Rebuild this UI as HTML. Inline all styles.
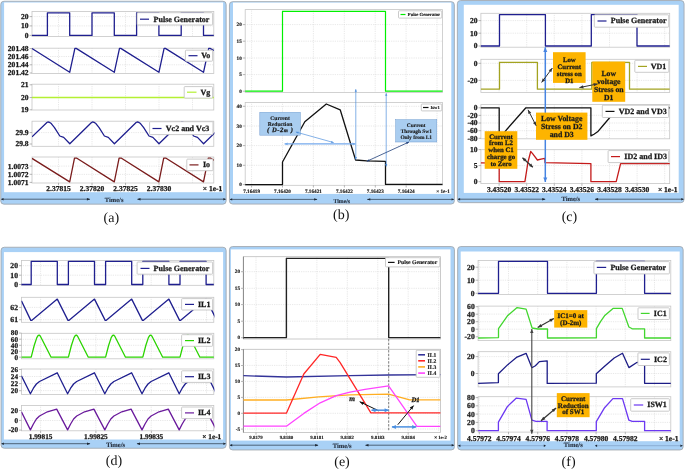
<!DOCTYPE html>
<html lang="en">
<head>
<meta charset="utf-8">
<title>Simulation waveforms</title>
<style>
html,body{margin:0;padding:0;background:#fff;}
body{width:685px;height:470px;overflow:hidden;}
svg{display:block;font-family:'Liberation Serif', 'DejaVu Serif', serif;}
svg text{stroke:#1a1a1a;stroke-width:0.26px;stroke-linejoin:round;text-rendering:geometricPrecision;}
svg text.cap{stroke:none;}
svg text.tm{stroke:#2a3443;stroke-width:0.15px;}
svg text.sm{stroke-width:0.15px;}
</style>
</head>
<body>
<svg width="685" height="470" viewBox="0 0 685 470">
<rect width="685" height="470" fill="#fff"/>
<rect x="0.75" y="1.25" width="225.4" height="202.9" rx="3.2" ry="3.2" fill="#a9d1f6" stroke="#a3a9b0" stroke-width="0.9"/>
<rect x="4.1" y="2.5" width="219" height="189.7" fill="#fff"/>
<path d="M1.3 199.2H89.8 M137.6 199.2H225.6" stroke="#1c2633" stroke-width="0.65" fill="none"/>
<path d="M90.3 199.2l-3.4 -1.2 v2.4 z M137.1 199.2l3.4 -1.2 v2.4 z" fill="#1c2633"/>
<path d="M1.1 199.2l2.4 -1.2 v2.4 z M225.8 199.2l-2.4 -1.2 v2.4 z" fill="#1c2633"/>
<text class="tm" x="114.1" y="201.65" font-size="6.5" font-weight="bold" text-anchor="middle" fill="#2a3443">Time/s</text>
<rect x="32" y="11.4" width="181.8" height="25.1" fill="#fff" stroke="#c6c6c6" stroke-width="0.8"/>
<path d="M58.5 11.4V36.5M92 11.4V36.5M125.5 11.4V36.5M159 11.4V36.5M192.5 11.4V36.5M32 16.6H213.8M32 25.9H213.8" stroke="#d0d0d0" stroke-width="0.6" stroke-dasharray="0.8 1" fill="none"/>
<text x="28.6" y="19.09" font-size="7.55" font-weight="bold" text-anchor="end" fill="#1a1a1a">20</text>
<text x="28.6" y="28.39" font-size="7.55" font-weight="bold" text-anchor="end" fill="#1a1a1a">10</text>
<text x="28.6" y="37.89" font-size="7.55" font-weight="bold" text-anchor="end" fill="#1a1a1a">0</text>
<path d="M29.6 16.6H32M29.6 25.9H32M29.6 35.4H32" stroke="#888" stroke-width="0.6" fill="none"/>
<polyline points="32,35.4 47.4,35.4 47.4,12.8 69.7,12.8 69.7,35.4 92,35.4 92,12.8 114.3,12.8 114.3,35.4 136.6,35.4 136.6,12.8 158.9,12.8 158.9,35.4 181.2,35.4 181.2,12.8 203.5,12.8 203.5,35.4 213.8,35.4" fill="none" stroke="#1f1f8f" stroke-width="1.3" stroke-linejoin="round"/>
<rect x="137.1" y="12.7" width="75.5" height="12.3" rx="0.8" fill="#fff" stroke="#c2c2c2" stroke-width="0.85"/>
<path d="M140 19.2H149" stroke="#1f1f8f" stroke-width="1.2"/>
<text x="153.6" y="21.68" font-size="8" font-weight="bold" fill="#1a1a1a">Pulse Generator</text>
<rect x="32" y="48.2" width="181.8" height="25.2" fill="#fff" stroke="#c6c6c6" stroke-width="0.8"/>
<path d="M58.5 48.2V73.4M92 48.2V73.4M125.5 48.2V73.4M159 48.2V73.4M192.5 48.2V73.4M32 56.5H213.8M32 64.8H213.8" stroke="#d0d0d0" stroke-width="0.6" stroke-dasharray="0.8 1" fill="none"/>
<text x="28.6" y="50.99" font-size="7.55" font-weight="bold" text-anchor="end" fill="#1a1a1a">201.48</text>
<text x="28.6" y="59.09" font-size="7.55" font-weight="bold" text-anchor="end" fill="#1a1a1a">201.46</text>
<text x="28.6" y="67.29" font-size="7.55" font-weight="bold" text-anchor="end" fill="#1a1a1a">201.44</text>
<text x="28.6" y="75.49" font-size="7.55" font-weight="bold" text-anchor="end" fill="#1a1a1a">201.42</text>
<path d="M29.6 48.5H32M29.6 56.6H32M29.6 64.8H32M29.6 73H32" stroke="#888" stroke-width="0.6" fill="none"/>
<clipPath id="ca2"><rect x="32" y="46" width="182.4" height="30"/></clipPath>
<polyline points="32,48.6 69.7,72.3 74.9,48.3 76.2,48.4 114.3,72.3 119.5,48.3 120.8,48.4 158.9,72.3 164.1,48.3 165.4,48.4 203.5,72.3 208.7,48.3 210,48.4 213.8,50.5" fill="none" stroke="#1f1f8f" stroke-width="1.3" stroke-linejoin="round" clip-path="url(#ca2)"/>
<rect x="185.4" y="50.2" width="27.2" height="11" rx="0.8" fill="#fff" stroke="#c2c2c2" stroke-width="0.85"/>
<path d="M188.5 55.7H197.5" stroke="#1f1f8f" stroke-width="1.2"/>
<text x="201.3" y="58.18" font-size="8" font-weight="bold" fill="#1a1a1a">Vo</text>
<rect x="32" y="84.2" width="181.8" height="25.8" fill="#fff" stroke="#c6c6c6" stroke-width="0.8"/>
<path d="M58.5 84.2V110M92 84.2V110M125.5 84.2V110M159 84.2V110M192.5 84.2V110M32 97.5H213.8" stroke="#d0d0d0" stroke-width="0.6" stroke-dasharray="0.8 1" fill="none"/>
<text x="28.6" y="87.29" font-size="7.55" font-weight="bold" text-anchor="end" fill="#1a1a1a">21</text>
<text x="28.6" y="99.99" font-size="7.55" font-weight="bold" text-anchor="end" fill="#1a1a1a">20</text>
<text x="28.6" y="112.29" font-size="7.55" font-weight="bold" text-anchor="end" fill="#1a1a1a">19</text>
<path d="M29.6 84.8H32M29.6 97.5H32M29.6 109.8H32" stroke="#888" stroke-width="0.6" fill="none"/>
<polyline points="32,97.5 213.8,97.5" fill="none" stroke="#b4f033" stroke-width="1.3" stroke-linejoin="round"/>
<rect x="184.2" y="86.6" width="28.4" height="11.5" rx="0.8" fill="#fff" stroke="#c2c2c2" stroke-width="0.85"/>
<path d="M187 92.2H196.5" stroke="#b4f033" stroke-width="1.2"/>
<text x="200.5" y="94.68" font-size="8" font-weight="bold" fill="#1a1a1a">Vg</text>
<rect x="32" y="121.2" width="181.8" height="25.1" fill="#fff" stroke="#c6c6c6" stroke-width="0.8"/>
<path d="M58.5 121.2V146.3M92 121.2V146.3M125.5 121.2V146.3M159 121.2V146.3M192.5 121.2V146.3M32 132.6H213.8" stroke="#d0d0d0" stroke-width="0.6" stroke-dasharray="0.8 1" fill="none"/>
<text x="28.6" y="135.09" font-size="7.55" font-weight="bold" text-anchor="end" fill="#1a1a1a">29.9</text>
<text x="28.6" y="146.49" font-size="7.55" font-weight="bold" text-anchor="end" fill="#1a1a1a">29.8</text>
<path d="M29.6 132.6H32M29.6 144H32" stroke="#888" stroke-width="0.6" fill="none"/>
<clipPath id="ca4"><rect x="32" y="119" width="182.4" height="29"/></clipPath>
<polyline points="32,136.8 46.9,122.5 47.9,122 49.7,122.4 51.3,123.6 54.5,127.6 59.8,136 63.7,137.4 69.8,143.8 91.5,122.5 92.5,122 94.3,122.4 95.9,123.6 99.1,127.6 104.4,136 108.3,137.4 114.4,143.8 136.1,122.5 137.1,122 138.9,122.4 140.5,123.6 143.7,127.6 149,136 152.9,137.4 159,143.8 180.7,122.5 181.7,122 183.5,122.4 185.1,123.6 188.3,127.6 193.6,136 197.5,137.4 203.6,143.8 225.3,122.5 226.3,122 228.1,122.4 229.7,123.6 232.9,127.6 238.2,136 242.1,137.4 248.2,143.8" fill="none" stroke="#1f1f8f" stroke-width="1.3" stroke-linejoin="round" clip-path="url(#ca4)"/>
<rect x="149.6" y="121.7" width="63.4" height="12.9" rx="0.8" fill="#fff" stroke="#c2c2c2" stroke-width="0.85"/>
<path d="M152.5 128.5H161.5" stroke="#1f1f8f" stroke-width="1.2"/>
<text x="165.8" y="130.98" font-size="8" font-weight="bold" fill="#1a1a1a">Vc2 and Vc3</text>
<rect x="32" y="157" width="181.8" height="26" fill="#fff" stroke="#c6c6c6" stroke-width="0.8"/>
<path d="M58.5 157V183M92 157V183M125.5 157V183M159 157V183M192.5 157V183M32 166.1H213.8M32 174.4H213.8" stroke="#d0d0d0" stroke-width="0.6" stroke-dasharray="0.8 1" fill="none"/>
<text x="28.6" y="168.59" font-size="7.55" font-weight="bold" text-anchor="end" fill="#1a1a1a">1.0073</text>
<text x="28.6" y="176.79" font-size="7.55" font-weight="bold" text-anchor="end" fill="#1a1a1a">1.0072</text>
<text x="28.6" y="184.89" font-size="7.55" font-weight="bold" text-anchor="end" fill="#1a1a1a">1.0071</text>
<path d="M29.6 166.1H32M29.6 174.3H32M29.6 182.4H32" stroke="#888" stroke-width="0.6" fill="none"/>
<clipPath id="ca5"><rect x="32" y="155" width="182.4" height="30"/></clipPath>
<polyline points="32,158.4 69.7,181.9 74.5,158.2 76.9,158.2 114.3,181.9 119.1,158.2 121.5,158.2 158.9,181.9 163.7,158.2 166.1,158.2 203.5,181.9 208.3,158.2 210.7,158.2 213.8,160.4" fill="none" stroke="#7a1c1c" stroke-width="1.3" stroke-linejoin="round" clip-path="url(#ca5)"/>
<rect x="186.8" y="159.1" width="26.2" height="11.6" rx="0.8" fill="#fff" stroke="#c2c2c2" stroke-width="0.85"/>
<path d="M189.5 164.9H198.5" stroke="#7a1c1c" stroke-width="1.2"/>
<text x="203" y="167.38" font-size="8" font-weight="bold" fill="#1a1a1a">Io</text>
<text x="58.5" y="191.38" font-size="7.5" font-weight="bold" text-anchor="middle" fill="#1a1a1a">2.37815</text>
<text x="92" y="191.38" font-size="7.5" font-weight="bold" text-anchor="middle" fill="#1a1a1a">2.37820</text>
<text x="125.5" y="191.38" font-size="7.5" font-weight="bold" text-anchor="middle" fill="#1a1a1a">2.37825</text>
<text x="159" y="191.38" font-size="7.5" font-weight="bold" text-anchor="middle" fill="#1a1a1a">2.37830</text>
<text x="212.6" y="191.38" font-size="7.5" font-weight="bold" text-anchor="middle" fill="#1a1a1a">× 1e-1</text>
<path d="M58.5 183V185.2M92 183V185.2M125.5 183V185.2M159 183V185.2" stroke="#888" stroke-width="0.6" fill="none"/>
<text class="cap" x="111.3" y="221.6" font-size="14" text-anchor="middle" fill="#111">(a)</text>
<rect x="229.45" y="1.65" width="224.9" height="202.4" rx="3.2" ry="3.2" fill="#a9d1f6" stroke="#a3a9b0" stroke-width="0.9"/>
<rect x="233" y="2.6" width="218.3" height="191.3" fill="#fff"/>
<path d="M230 199.4H317 M367.4 199.4H453.8" stroke="#1c2633" stroke-width="0.65" fill="none"/>
<path d="M317.5 199.4l-3.4 -1.2 v2.4 z M366.9 199.4l3.4 -1.2 v2.4 z" fill="#1c2633"/>
<path d="M229.8 199.4l2.4 -1.2 v2.4 z M454 199.4l-2.4 -1.2 v2.4 z" fill="#1c2633"/>
<text class="tm" x="341.8" y="202.64" font-size="5.8" font-weight="bold" text-anchor="middle" fill="#2a3443">Time/s</text>
<rect x="245.2" y="9.6" width="197.3" height="82.8" fill="#fff" stroke="#c6c6c6" stroke-width="0.8"/>
<path d="M251.6 9.6V92.4M282.5 9.6V92.4M313.4 9.6V92.4M344.3 9.6V92.4M375.2 9.6V92.4M406.1 9.6V92.4M437 9.6V92.4M245.2 24.6H442.5M245.2 41.2H442.5M245.2 58H442.5M245.2 74.6H442.5" stroke="#d0d0d0" stroke-width="0.6" stroke-dasharray="0.8 1" fill="none"/>
<text class="sm" x="241.8" y="26.32" font-size="5.2" font-weight="bold" text-anchor="end" fill="#1a1a1a">20</text>
<text class="sm" x="241.8" y="42.92" font-size="5.2" font-weight="bold" text-anchor="end" fill="#1a1a1a">15</text>
<text class="sm" x="241.8" y="59.72" font-size="5.2" font-weight="bold" text-anchor="end" fill="#1a1a1a">10</text>
<text class="sm" x="241.8" y="76.32" font-size="5.2" font-weight="bold" text-anchor="end" fill="#1a1a1a">5</text>
<text class="sm" x="241.8" y="92.92" font-size="5.2" font-weight="bold" text-anchor="end" fill="#1a1a1a">0</text>
<path d="M242.8 24.6H245.2M242.8 41.2H245.2M242.8 58H245.2M242.8 74.6H245.2M242.8 91.2H245.2" stroke="#888" stroke-width="0.6" fill="none"/>
<polyline points="245.2,91.2 282.5,91.2 282.5,11.3 385.5,11.3 385.5,91.2 442.5,91.2" fill="none" stroke="#00f000" stroke-width="1.2" stroke-linejoin="round"/>
<rect x="398.5" y="10.8" width="43.3" height="7.3" rx="0.8" fill="#fff" stroke="#c2c2c2" stroke-width="0.85"/>
<path d="M400.5 14.5H405.5" stroke="#00e800" stroke-width="1.2"/>
<text class="sm" x="407.8" y="15.94" font-size="4.65" font-weight="bold" fill="#1a1a1a">Pulse Generator</text>
<rect x="245.2" y="102.4" width="197.3" height="82.9" fill="#fff" stroke="#c6c6c6" stroke-width="0.8"/>
<path d="M251.6 102.4V185.3M282.5 102.4V185.3M313.4 102.4V185.3M344.3 102.4V185.3M375.2 102.4V185.3M406.1 102.4V185.3M437 102.4V185.3M245.2 106.3H442.5M245.2 126H442.5M245.2 145.6H442.5M245.2 165.3H442.5" stroke="#d0d0d0" stroke-width="0.6" stroke-dasharray="0.8 1" fill="none"/>
<text class="sm" x="241.8" y="108.02" font-size="5.2" font-weight="bold" text-anchor="end" fill="#1a1a1a">40</text>
<text class="sm" x="241.8" y="127.72" font-size="5.2" font-weight="bold" text-anchor="end" fill="#1a1a1a">30</text>
<text class="sm" x="241.8" y="147.32" font-size="5.2" font-weight="bold" text-anchor="end" fill="#1a1a1a">20</text>
<text class="sm" x="241.8" y="167.02" font-size="5.2" font-weight="bold" text-anchor="end" fill="#1a1a1a">10</text>
<text class="sm" x="241.8" y="186.32" font-size="5.2" font-weight="bold" text-anchor="end" fill="#1a1a1a">0</text>
<path d="M242.8 106.3H245.2M242.8 126H245.2M242.8 145.6H245.2M242.8 165.3H245.2M242.8 184.6H245.2" stroke="#888" stroke-width="0.6" fill="none"/>
<polyline points="245.2,184.6 282.5,184.6 282.5,162 304.8,121.8 326.3,104 340.2,109.8 355.6,160 366.8,160.9 385.5,161.3 385.5,184.4 442.5,184.4" fill="none" stroke="#111" stroke-width="1.3" stroke-linejoin="round"/>
<rect x="421.3" y="104" width="20.5" height="6.9" rx="0.8" fill="#fff" stroke="#c2c2c2" stroke-width="0.85"/>
<path d="M423 107.5H428.5" stroke="#111" stroke-width="1.2"/>
<text class="sm" x="430.5" y="108.93" font-size="4.6" font-weight="bold" fill="#1a1a1a">Isw1</text>
<text class="sm" x="251.6" y="192.62" font-size="5.2" font-weight="bold" text-anchor="middle" fill="#1a1a1a">7.16419</text>
<text class="sm" x="282.5" y="192.62" font-size="5.2" font-weight="bold" text-anchor="middle" fill="#1a1a1a">7.16420</text>
<text class="sm" x="313.4" y="192.62" font-size="5.2" font-weight="bold" text-anchor="middle" fill="#1a1a1a">7.16421</text>
<text class="sm" x="344.4" y="192.62" font-size="5.2" font-weight="bold" text-anchor="middle" fill="#1a1a1a">7.16422</text>
<text class="sm" x="375.3" y="192.62" font-size="5.2" font-weight="bold" text-anchor="middle" fill="#1a1a1a">7.16423</text>
<text class="sm" x="406.2" y="192.62" font-size="5.2" font-weight="bold" text-anchor="middle" fill="#1a1a1a">7.16424</text>
<text class="sm" x="443" y="192.62" font-size="5.2" font-weight="bold" text-anchor="middle" fill="#1a1a1a">× 1e-1</text>
<path d="M251.6 185.3V187.5M282.5 185.3V187.5M313.4 185.3V187.5M344.4 185.3V187.5M375.3 185.3V187.5M406.2 185.3V187.5" stroke="#888" stroke-width="0.6" fill="none"/>
<path d="M355.8 159.6L355.8 89.2" stroke="#4f8fdc" stroke-width="0.7" fill="none"/>
<path d="M355.8 89.2L356.9 91.8L354.7 91.8z" fill="#4f8fdc"/>
<path d="M355.8 159.6L354.7 157L356.9 157z" fill="#4f8fdc"/>
<path d="M386.2 93.2L386.2 166.5" stroke="#4f8fdc" stroke-width="0.7" fill="none"/>
<path d="M386.2 166.5L385.1 163.9L387.3 163.9z" fill="#4f8fdc"/>
<path d="M386.2 93.2L387.3 95.8L385.1 95.8z" fill="#4f8fdc"/>
<path d="M355.5 143.9L284.6 143.9" stroke="#74a9ec" stroke-width="1.15" fill="none"/>
<path d="M284.6 143.9L287.6 142.6L287.6 145.2z" fill="#74a9ec"/>
<path d="M355.5 143.9L352.5 145.2L352.5 142.6z" fill="#74a9ec"/>
<rect x="259.8" y="112.3" width="40.5" height="22.9" fill="#a9cdf0" stroke="#6f9bd0" stroke-width="0.5"/>
<text class="sm" x="280.05" y="119.99" font-size="5.6" font-weight="bold" text-anchor="middle" fill="#1a1a1a">Current</text>
<text class="sm" x="280.05" y="125.99" font-size="5.6" font-weight="bold" text-anchor="middle" fill="#1a1a1a">Reduction</text>
<text class="sm" x="280.05" y="131.99" font-size="5.6" font-weight="bold" text-anchor="middle" fill="#1a1a1a"></text>
<text x="280.2" y="132.4" font-size="6.6" font-weight="bold" font-style="italic" text-anchor="middle" letter-spacing="0.55" fill="#1a1a1a">( D-2<tspan font-size="5.2">m</tspan>  )</text>
<path d="M295.9 132L333.7 142.6" stroke="#4f8fdc" stroke-width="0.7" fill="none"/>
<path d="M333.7 142.6L330.93 142.86L331.47 140.94z" fill="#4f8fdc"/>
<path d="M295.9 132L298.67 131.74L298.13 133.66z" fill="#4f8fdc"/>
<rect x="395.7" y="119.7" width="41.1" height="22.3" fill="#a9cdf0" stroke="#6f9bd0" stroke-width="0.5"/>
<text class="sm" x="416.25" y="127.03" font-size="5.4" font-weight="bold" text-anchor="middle" fill="#1a1a1a">Current</text>
<text class="sm" x="416.25" y="133.03" font-size="5.4" font-weight="bold" text-anchor="middle" fill="#1a1a1a">Through Sw1</text>
<text class="sm" x="416.25" y="139.03" font-size="5.4" font-weight="bold" text-anchor="middle" fill="#1a1a1a">Only from L1</text>
<path d="M366.8 161.3L409 142" stroke="#1f3f7a" stroke-width="0.8" fill="none"/>
<path d="M409 142L406.91 144.16L406 142.16z" fill="#1f3f7a"/>
<path d="M366.8 161.3L368.89 159.14L369.8 161.14z" fill="#1f3f7a"/>
<text class="cap" x="341.2" y="218.8" font-size="14" text-anchor="middle" fill="#111">(b)</text>
<rect x="457.35" y="0.55" width="226.7" height="202.1" rx="3.2" ry="3.2" fill="#a9d1f6" stroke="#a3a9b0" stroke-width="0.9"/>
<rect x="463.8" y="4.8" width="214.9" height="188.1" fill="#fff"/>
<path d="M457.9 199.2H545.1 M595.2 199.2H683.5" stroke="#1c2633" stroke-width="0.65" fill="none"/>
<path d="M545.6 199.2l-3.4 -1.2 v2.4 z M594.7 199.2l3.4 -1.2 v2.4 z" fill="#1c2633"/>
<path d="M457.7 199.2l2.4 -1.2 v2.4 z M683.7 199.2l-2.4 -1.2 v2.4 z" fill="#1c2633"/>
<text class="tm" x="570.8" y="200.55" font-size="6.5" font-weight="bold" text-anchor="middle" fill="#2a3443">Time/s</text>
<rect x="480.9" y="13.3" width="188.8" height="33.9" fill="#fff" stroke="#c6c6c6" stroke-width="0.8"/>
<path d="M499.1 13.3V47.2M526.7 13.3V47.2M554.3 13.3V47.2M581.9 13.3V47.2M609.5 13.3V47.2M637.1 13.3V47.2M664.7 13.3V47.2M480.9 20.6H669.7M480.9 33.2H669.7" stroke="#d0d0d0" stroke-width="0.6" stroke-dasharray="0.8 1" fill="none"/>
<text x="477.5" y="23.09" font-size="7.55" font-weight="bold" text-anchor="end" fill="#1a1a1a">20</text>
<text x="477.5" y="35.69" font-size="7.55" font-weight="bold" text-anchor="end" fill="#1a1a1a">10</text>
<text x="477.5" y="48.49" font-size="7.55" font-weight="bold" text-anchor="end" fill="#1a1a1a">0</text>
<path d="M478.5 20.6H480.9M478.5 33.2H480.9M478.5 46H480.9" stroke="#888" stroke-width="0.6" fill="none"/>
<polyline points="480.9,46 499.5,46 499.5,14.6 545.4,14.6 545.4,46 591.3,46 591.3,14.6 637,14.6 637,46 669.7,46" fill="none" stroke="#1f1f8f" stroke-width="1.3" stroke-linejoin="round"/>
<rect x="594.3" y="14.8" width="74.4" height="12.4" rx="0.8" fill="#fff" stroke="#c2c2c2" stroke-width="0.85"/>
<path d="M597.5 21H606.5" stroke="#1f1f8f" stroke-width="1.2"/>
<text x="610.8" y="23.48" font-size="8" font-weight="bold" fill="#1a1a1a">Pulse Generator</text>
<rect x="480.9" y="59.3" width="188.8" height="33.1" fill="#fff" stroke="#c6c6c6" stroke-width="0.8"/>
<path d="M499.1 59.3V92.4M526.7 59.3V92.4M554.3 59.3V92.4M581.9 59.3V92.4M609.5 59.3V92.4M637.1 59.3V92.4M664.7 59.3V92.4M480.9 63.3H669.7M480.9 80.4H669.7" stroke="#d0d0d0" stroke-width="0.6" stroke-dasharray="0.8 1" fill="none"/>
<text x="477.5" y="65.79" font-size="7.55" font-weight="bold" text-anchor="end" fill="#1a1a1a">0</text>
<text x="477.5" y="82.89" font-size="7.55" font-weight="bold" text-anchor="end" fill="#1a1a1a">-20</text>
<path d="M478.5 63.3H480.9M478.5 80.4H480.9" stroke="#888" stroke-width="0.6" fill="none"/>
<polyline points="480.9,89.2 499.5,89.2 499.5,62.3 537.4,62.3 537.4,89.2 591.8,89.2 591.8,62.3 629.5,62.3 629.5,89.2 669.7,89.2" fill="none" stroke="#a3a320" stroke-width="1.3" stroke-linejoin="round"/>
<rect x="634.8" y="60.3" width="34" height="12" rx="0.8" fill="#fff" stroke="#c2c2c2" stroke-width="0.85"/>
<path d="M638 66.4H647" stroke="#a3a320" stroke-width="1.2"/>
<text x="650.8" y="68.88" font-size="8" font-weight="bold" fill="#1a1a1a">VD1</text>
<rect x="480.9" y="104.6" width="188.8" height="34.2" fill="#fff" stroke="#c6c6c6" stroke-width="0.8"/>
<path d="M499.1 104.6V138.8M526.7 104.6V138.8M554.3 104.6V138.8M581.9 104.6V138.8M609.5 104.6V138.8M637.1 104.6V138.8M664.7 104.6V138.8M480.9 115.3H669.7M480.9 123H669.7M480.9 130.7H669.7" stroke="#d0d0d0" stroke-width="0.6" stroke-dasharray="0.8 1" fill="none"/>
<text x="477.5" y="110.29" font-size="7.55" font-weight="bold" text-anchor="end" fill="#1a1a1a">0</text>
<text x="477.5" y="117.89" font-size="7.55" font-weight="bold" text-anchor="end" fill="#1a1a1a">-20</text>
<text x="477.5" y="125.49" font-size="7.55" font-weight="bold" text-anchor="end" fill="#1a1a1a">-40</text>
<text x="477.5" y="133.19" font-size="7.55" font-weight="bold" text-anchor="end" fill="#1a1a1a">-60</text>
<text x="477.5" y="140.79" font-size="7.55" font-weight="bold" text-anchor="end" fill="#1a1a1a">-80</text>
<path d="M478.5 107.8H480.9M478.5 115.4H480.9M478.5 123H480.9M478.5 130.7H480.9M478.5 138.3H480.9" stroke="#888" stroke-width="0.6" fill="none"/>
<polyline points="480.9,107.8 499.2,107.8 499.2,136.6 502.5,134.8 507,129.2 525.9,107.8 590.9,107.8 590.9,135.9 594,134.2 597.6,131.8 602.6,126 618,107.8 669.7,107.8" fill="none" stroke="#111" stroke-width="1.3" stroke-linejoin="round"/>
<rect x="602.3" y="105.2" width="66.3" height="12.3" rx="0.8" fill="#fff" stroke="#c2c2c2" stroke-width="0.85"/>
<path d="M605.5 111.4H614.5" stroke="#111" stroke-width="1.2"/>
<text x="618.8" y="113.88" font-size="8" font-weight="bold" fill="#1a1a1a">VD2 and VD3</text>
<rect x="480.9" y="149.7" width="188.8" height="33.9" fill="#fff" stroke="#c6c6c6" stroke-width="0.8"/>
<path d="M499.1 149.7V183.6M526.7 149.7V183.6M554.3 149.7V183.6M581.9 149.7V183.6M609.5 149.7V183.6M637.1 149.7V183.6M664.7 149.7V183.6M480.9 165.6H669.7" stroke="#d0d0d0" stroke-width="0.6" stroke-dasharray="0.8 1" fill="none"/>
<text x="477.5" y="152.09" font-size="7.55" font-weight="bold" text-anchor="end" fill="#1a1a1a">10</text>
<text x="477.5" y="168.09" font-size="7.55" font-weight="bold" text-anchor="end" fill="#1a1a1a">5</text>
<text x="477.5" y="184.19" font-size="7.55" font-weight="bold" text-anchor="end" fill="#1a1a1a">0</text>
<path d="M478.5 149.6H480.9M478.5 165.6H480.9M478.5 181.7H480.9" stroke="#888" stroke-width="0.6" fill="none"/>
<polyline points="480.9,162.9 499.2,163.1 499.2,181.7 524.9,181.7 528,162 530.7,151.5 532.6,153.6 537.4,160 541,159.2 544.8,158.4 545,162.6 590.9,163.6 590.9,181.7 616.2,181.7 620.6,163.6 669.7,163.6" fill="none" stroke="#c41a1a" stroke-width="1.3" stroke-linejoin="round"/>
<rect x="608.1" y="150.6" width="60.5" height="12" rx="0.8" fill="#fff" stroke="#c2c2c2" stroke-width="0.85"/>
<path d="M611 156.6H620" stroke="#c41a1a" stroke-width="1.2"/>
<text x="624.3" y="159.08" font-size="8" font-weight="bold" fill="#1a1a1a">ID2 and ID3</text>
<text x="499.1" y="192.17" font-size="7.5" font-weight="bold" text-anchor="middle" fill="#1a1a1a">3.43520</text>
<text x="526.7" y="192.17" font-size="7.5" font-weight="bold" text-anchor="middle" fill="#1a1a1a">3.43522</text>
<text x="554.3" y="192.17" font-size="7.5" font-weight="bold" text-anchor="middle" fill="#1a1a1a">3.43524</text>
<text x="581.9" y="192.17" font-size="7.5" font-weight="bold" text-anchor="middle" fill="#1a1a1a">3.43526</text>
<text x="609.5" y="192.17" font-size="7.5" font-weight="bold" text-anchor="middle" fill="#1a1a1a">3.43528</text>
<text x="637.1" y="192.17" font-size="7.5" font-weight="bold" text-anchor="middle" fill="#1a1a1a">3.43530</text>
<text x="667.7" y="192.17" font-size="7.5" font-weight="bold" text-anchor="middle" fill="#1a1a1a">× 1e-1</text>
<path d="M499.1 183.6V185.8M526.7 183.6V185.8M554.3 183.6V185.8M581.9 183.6V185.8M609.5 183.6V185.8M637.1 183.6V185.8" stroke="#888" stroke-width="0.6" fill="none"/>
<path d="M545.3 47.3L545.3 182" stroke="#4684e2" stroke-width="1.5" fill="none"/>
<path d="M545.3 182L543.3 177.4L547.3 177.4z" fill="#4684e2"/>
<path d="M545.3 47.3L547.3 51.9L543.3 51.9z" fill="#4684e2"/>
<rect x="553" y="52.2" width="32.6" height="30.7" fill="#fdb400"/>
<text x="569.3" y="62.48" font-size="6.8" font-weight="bold" text-anchor="middle" fill="#1a1a1a">Low</text>
<text x="569.3" y="69.28" font-size="6.8" font-weight="bold" text-anchor="middle" fill="#1a1a1a">Current</text>
<text x="569.3" y="76.08" font-size="6.8" font-weight="bold" text-anchor="middle" fill="#1a1a1a">stress on</text>
<text x="569.3" y="82.88" font-size="6.8" font-weight="bold" text-anchor="middle" fill="#1a1a1a">D1</text>
<path d="M541.6 82.4L552.4 68" stroke="#333" stroke-width="1.0" fill="none"/>
<path d="M552.4 68L551.28 72.16L548.72 70.24z" fill="#333"/>
<path d="M541.6 82.4L542.72 78.24L545.28 80.16z" fill="#333"/>
<rect x="592.3" y="61.6" width="32.9" height="40.2" fill="#fdb400"/>
<text x="608.75" y="75.76" font-size="7.7" font-weight="bold" text-anchor="middle" fill="#1a1a1a">Low</text>
<text x="608.75" y="83.76" font-size="7.7" font-weight="bold" text-anchor="middle" fill="#1a1a1a">voltage</text>
<text x="608.75" y="91.76" font-size="7.7" font-weight="bold" text-anchor="middle" fill="#1a1a1a">Stress on</text>
<text x="608.75" y="99.76" font-size="7.7" font-weight="bold" text-anchor="middle" fill="#1a1a1a">D1</text>
<path d="M579.4 87.6L597.7 83.9" stroke="#333" stroke-width="1.0" fill="none"/>
<path d="M597.7 83.9L594.1 86.26L593.46 83.12z" fill="#333"/>
<path d="M579.4 87.6L583 85.24L583.64 88.38z" fill="#333"/>
<rect x="536" y="112.6" width="51.4" height="27.2" fill="#fdb400"/>
<text x="561.7" y="120.9" font-size="7.8" font-weight="bold" text-anchor="middle" fill="#1a1a1a">Low Voltage</text>
<text x="561.7" y="128.7" font-size="7.8" font-weight="bold" text-anchor="middle" fill="#1a1a1a">Stress on D2</text>
<text x="561.7" y="136.5" font-size="7.8" font-weight="bold" text-anchor="middle" fill="#1a1a1a">and D3</text>
<path d="M528 109.8L536.2 125.8" stroke="#333" stroke-width="1.0" fill="none"/>
<path d="M536.2 125.8L532.95 122.97L535.8 121.51z" fill="#333"/>
<path d="M528 109.8L531.25 112.63L528.4 114.09z" fill="#333"/>
<rect x="484.7" y="131.2" width="32.6" height="37.6" fill="#fdb400"/>
<text x="501" y="138.68" font-size="6.8" font-weight="bold" text-anchor="middle" fill="#1a1a1a">Current</text>
<text x="501" y="145.48" font-size="6.8" font-weight="bold" text-anchor="middle" fill="#1a1a1a">from L2</text>
<text x="501" y="152.28" font-size="6.8" font-weight="bold" text-anchor="middle" fill="#1a1a1a">when C1</text>
<text x="501" y="159.08" font-size="6.8" font-weight="bold" text-anchor="middle" fill="#1a1a1a">charge go</text>
<text x="501" y="165.88" font-size="6.8" font-weight="bold" text-anchor="middle" fill="#1a1a1a">to Zero</text>
<path d="M522.5 157.8L532.8 167.2" stroke="#333" stroke-width="1.3" fill="none"/>
<path d="M532.8 167.2L528.99 166.03L531.29 163.52z" fill="#333"/>
<path d="M522.5 157.8L526.31 158.97L524.01 161.48z" fill="#333"/>
<text class="cap" x="569.4" y="221" font-size="14" text-anchor="middle" fill="#111">(c)</text>
<rect x="1.05" y="247.25" width="225.1" height="201" rx="3.2" ry="3.2" fill="#a9d1f6" stroke="#a3a9b0" stroke-width="0.9"/>
<rect x="3.9" y="252.1" width="219.2" height="187.4" fill="#fff"/>
<path d="M1.6 443.7H89.9 M137.1 443.7H225.6" stroke="#1c2633" stroke-width="0.65" fill="none"/>
<path d="M90.4 443.7l-3.4 -1.2 v2.4 z M136.6 443.7l3.4 -1.2 v2.4 z" fill="#1c2633"/>
<path d="M1.4 443.7l2.4 -1.2 v2.4 z M225.8 443.7l-2.4 -1.2 v2.4 z" fill="#1c2633"/>
<text class="tm" x="115.7" y="447.28" font-size="6.6" font-weight="bold" text-anchor="middle" fill="#2a3443">Time/s</text>
<rect x="21.4" y="260.5" width="192.4" height="24.8" fill="#fff" stroke="#c6c6c6" stroke-width="0.8"/>
<path d="M40.6 260.5V285.3M95.9 260.5V285.3M151.2 260.5V285.3M206.5 260.5V285.3M21.4 265.7H213.8M21.4 275.2H213.8" stroke="#d0d0d0" stroke-width="0.6" stroke-dasharray="0.8 1" fill="none"/>
<text x="18" y="268.24" font-size="7.7" font-weight="bold" text-anchor="end" fill="#1a1a1a">20</text>
<text x="18" y="277.74" font-size="7.7" font-weight="bold" text-anchor="end" fill="#1a1a1a">10</text>
<text x="18" y="287.04" font-size="7.7" font-weight="bold" text-anchor="end" fill="#1a1a1a">0</text>
<path d="M19 265.7H21.4M19 275.2H21.4M19 284.5H21.4" stroke="#888" stroke-width="0.6" fill="none"/>
<polyline points="21.4,284.5 31.2,284.5 31.2,261.3 57.3,261.3 57.3,284.5 68.4,284.5 68.4,261.3 94.5,261.3 94.5,284.5 105.6,284.5 105.6,261.3 131.7,261.3 131.7,284.5 142.8,284.5 142.8,261.3 168.9,261.3 168.9,284.5 180,284.5 180,261.3 206.1,261.3 206.1,284.5 213.8,284.5" fill="none" stroke="#1f1f8f" stroke-width="1.3" stroke-linejoin="round"/>
<rect x="137.1" y="262" width="75.5" height="12.2" rx="0.8" fill="#fff" stroke="#c2c2c2" stroke-width="0.85"/>
<path d="M140.5 268.4H149.5" stroke="#1f1f8f" stroke-width="1.2"/>
<text x="153.6" y="270.88" font-size="8" font-weight="bold" fill="#1a1a1a">Pulse Generator</text>
<rect x="21.4" y="297.3" width="192.4" height="25" fill="#fff" stroke="#c6c6c6" stroke-width="0.8"/>
<path d="M40.6 297.3V322.3M95.9 297.3V322.3M151.2 297.3V322.3M206.5 297.3V322.3M21.4 307.4H213.8M21.4 319.7H213.8" stroke="#d0d0d0" stroke-width="0.6" stroke-dasharray="0.8 1" fill="none"/>
<text x="18" y="309.94" font-size="7.7" font-weight="bold" text-anchor="end" fill="#1a1a1a">62</text>
<text x="18" y="322.24" font-size="7.7" font-weight="bold" text-anchor="end" fill="#1a1a1a">61</text>
<path d="M19 307.4H21.4M19 319.7H21.4" stroke="#888" stroke-width="0.6" fill="none"/>
<clipPath id="cd2"><rect x="21.4" y="296" width="193" height="28"/></clipPath>
<polyline points="21.4,300.8 30.8,320.4 31.6,320.4 57.3,299.1 68,320.4 68.8,320.4 94.5,299.1 105.2,320.4 106,320.4 131.7,299.1 142.4,320.4 143.2,320.4 168.9,299.1 179.6,320.4 180.4,320.4 206.1,299.1 216.8,320.4 217.6,320.4 243.3,299.1" fill="none" stroke="#1f1f8f" stroke-width="1.3" stroke-linejoin="round" clip-path="url(#cd2)"/>
<rect x="181.6" y="298.6" width="31" height="11.4" rx="0.8" fill="#fff" stroke="#c2c2c2" stroke-width="0.85"/>
<path d="M185 304.4H194" stroke="#1f1f8f" stroke-width="1.2"/>
<text x="198" y="306.88" font-size="8" font-weight="bold" fill="#1a1a1a">IL1</text>
<rect x="21.4" y="333.3" width="192.4" height="25.5" fill="#fff" stroke="#c6c6c6" stroke-width="0.8"/>
<path d="M40.6 333.3V358.8M95.9 333.3V358.8M151.2 333.3V358.8M206.5 333.3V358.8M21.4 339.3H213.8M21.4 345.3H213.8M21.4 351.3H213.8" stroke="#d0d0d0" stroke-width="0.6" stroke-dasharray="0.8 1" fill="none"/>
<text x="18" y="335.48" font-size="7.2" font-weight="bold" text-anchor="end" fill="#1a1a1a">80</text>
<text x="18" y="341.58" font-size="7.2" font-weight="bold" text-anchor="end" fill="#1a1a1a">60</text>
<text x="18" y="347.68" font-size="7.2" font-weight="bold" text-anchor="end" fill="#1a1a1a">40</text>
<text x="18" y="353.68" font-size="7.2" font-weight="bold" text-anchor="end" fill="#1a1a1a">20</text>
<text x="18" y="359.58" font-size="7.2" font-weight="bold" text-anchor="end" fill="#1a1a1a">0</text>
<path d="M19 333.1H21.4M19 339.2H21.4M19 345.3H21.4M19 351.3H21.4M19 357.2H21.4" stroke="#888" stroke-width="0.6" fill="none"/>
<clipPath id="cd3"><rect x="21.4" y="331" width="193" height="29"/></clipPath>
<polyline points="21.4,357.2 31.2,357.2 34.2,345.5 36.8,337.6 38.2,335.3 39.2,335.1 40.4,336.2 41.8,339 51.1,357.2 68.4,357.2 71.4,345.5 74,337.6 75.4,335.3 76.4,335.1 77.6,336.2 79,339 88.3,357.2 105.6,357.2 108.6,345.5 111.2,337.6 112.6,335.3 113.6,335.1 114.8,336.2 116.2,339 125.5,357.2 142.8,357.2 145.8,345.5 148.4,337.6 149.8,335.3 150.8,335.1 152,336.2 153.4,339 162.7,357.2 180,357.2 183,345.5 185.6,337.6 187,335.3 188,335.1 189.2,336.2 190.6,339 199.9,357.2 213.8,357.2" fill="none" stroke="#2bd400" stroke-width="1.3" stroke-linejoin="round" clip-path="url(#cd3)"/>
<rect x="181.6" y="334.7" width="31" height="11.6" rx="0.8" fill="#fff" stroke="#c2c2c2" stroke-width="0.85"/>
<path d="M185 340.6H194" stroke="#2bd400" stroke-width="1.2"/>
<text x="198" y="343.08" font-size="8" font-weight="bold" fill="#1a1a1a">IL2</text>
<rect x="21.4" y="369" width="192.4" height="25.4" fill="#fff" stroke="#c6c6c6" stroke-width="0.8"/>
<path d="M40.6 369V394.4M95.9 369V394.4M151.2 369V394.4M206.5 369V394.4M21.4 376.5H213.8M21.4 383.7H213.8M21.4 390.6H213.8" stroke="#d0d0d0" stroke-width="0.6" stroke-dasharray="0.8 1" fill="none"/>
<text x="18" y="371.78" font-size="7.2" font-weight="bold" text-anchor="end" fill="#1a1a1a">26</text>
<text x="18" y="378.88" font-size="7.2" font-weight="bold" text-anchor="end" fill="#1a1a1a">24</text>
<text x="18" y="385.98" font-size="7.2" font-weight="bold" text-anchor="end" fill="#1a1a1a">22</text>
<text x="18" y="393.08" font-size="7.2" font-weight="bold" text-anchor="end" fill="#1a1a1a">20</text>
<path d="M19 369.4H21.4M19 376.5H21.4M19 383.6H21.4M19 390.7H21.4" stroke="#888" stroke-width="0.6" fill="none"/>
<clipPath id="cd4"><rect x="21.4" y="367" width="193" height="29"/></clipPath>
<polyline points="21.4,375.9 30.4,393.8 33.4,388.2 36.4,384 39.5,381.5 57.2,372.8 67.6,393.8 70.6,388.2 73.6,384 76.7,381.5 94.4,372.8 104.8,393.8 107.8,388.2 110.8,384 113.9,381.5 131.6,372.8 142,393.8 145,388.2 148,384 151.1,381.5 168.8,372.8 179.2,393.8 182.2,388.2 185.2,384 188.3,381.5 206,372.8 216.4,393.8 219.4,388.2 222.4,384 225.5,381.5 243.2,372.8" fill="none" stroke="#1f1f8f" stroke-width="1.3" stroke-linejoin="round" clip-path="url(#cd4)"/>
<rect x="181.6" y="370.8" width="31" height="11.6" rx="0.8" fill="#fff" stroke="#c2c2c2" stroke-width="0.85"/>
<path d="M185 376.7H194" stroke="#1f1f8f" stroke-width="1.2"/>
<text x="198" y="379.18" font-size="8" font-weight="bold" fill="#1a1a1a">IL3</text>
<rect x="21.4" y="405.5" width="192.4" height="25.3" fill="#fff" stroke="#c6c6c6" stroke-width="0.8"/>
<path d="M40.6 405.5V430.8M95.9 405.5V430.8M151.2 405.5V430.8M206.5 405.5V430.8M21.4 410.5H213.8M21.4 420.5H213.8" stroke="#d0d0d0" stroke-width="0.6" stroke-dasharray="0.8 1" fill="none"/>
<text x="18" y="412.88" font-size="7.2" font-weight="bold" text-anchor="end" fill="#1a1a1a">20</text>
<text x="18" y="422.78" font-size="7.2" font-weight="bold" text-anchor="end" fill="#1a1a1a">0</text>
<text x="18" y="432.48" font-size="7.2" font-weight="bold" text-anchor="end" fill="#1a1a1a">-20</text>
<path d="M19 410.5H21.4M19 420.4H21.4M19 430.1H21.4" stroke="#888" stroke-width="0.6" fill="none"/>
<clipPath id="cd5"><rect x="21.4" y="404" width="193" height="29"/></clipPath>
<polyline points="21.4,411.9 30.4,429.9 33.4,424 36.4,419 39.5,416 47.4,411.8 56.7,409.1 67.6,429.9 70.6,424 73.6,419 76.7,416 84.6,411.8 93.9,409.1 104.8,429.9 107.8,424 110.8,419 113.9,416 121.8,411.8 131.1,409.1 142,429.9 145,424 148,419 151.1,416 159,411.8 168.3,409.1 179.2,429.9 182.2,424 185.2,419 188.3,416 196.2,411.8 205.5,409.1 216.4,429.9 219.4,424 222.4,419 225.5,416 233.4,411.8 242.7,409.1" fill="none" stroke="#6a1a9c" stroke-width="1.3" stroke-linejoin="round" clip-path="url(#cd5)"/>
<rect x="181.6" y="407" width="31" height="11.6" rx="0.8" fill="#fff" stroke="#c2c2c2" stroke-width="0.85"/>
<path d="M185 412.9H194" stroke="#6a1a9c" stroke-width="1.2"/>
<text x="198" y="415.38" font-size="8" font-weight="bold" fill="#1a1a1a">IL4</text>
<text x="40.6" y="439.01" font-size="7.3" font-weight="bold" text-anchor="middle" fill="#1a1a1a">1.99815</text>
<text x="95.9" y="439.01" font-size="7.3" font-weight="bold" text-anchor="middle" fill="#1a1a1a">1.99825</text>
<text x="151.4" y="439.01" font-size="7.3" font-weight="bold" text-anchor="middle" fill="#1a1a1a">1.99835</text>
<text x="211.8" y="439.01" font-size="7.3" font-weight="bold" text-anchor="middle" fill="#1a1a1a">× 1e-1</text>
<path d="M40.6 430.8V433M95.9 430.8V433M151.4 430.8V433" stroke="#888" stroke-width="0.6" fill="none"/>
<text class="cap" x="113.9" y="465.4" font-size="14" text-anchor="middle" fill="#111">(d)</text>
<rect x="229.45" y="246.55" width="225" height="203.4" rx="3.2" ry="3.2" fill="#a9d1f6" stroke="#a3a9b0" stroke-width="0.9"/>
<rect x="230.9" y="249.4" width="219.6" height="191.2" fill="#fff"/>
<path d="M230 445.2H318 M365.6 445.2H453.9" stroke="#1c2633" stroke-width="0.65" fill="none"/>
<path d="M318.5 445.2l-3.4 -1.2 v2.4 z M365.1 445.2l3.4 -1.2 v2.4 z" fill="#1c2633"/>
<path d="M229.8 445.2l2.4 -1.2 v2.4 z M454.1 445.2l-2.4 -1.2 v2.4 z" fill="#1c2633"/>
<text class="tm" x="342.2" y="447.98" font-size="6.6" font-weight="bold" text-anchor="middle" fill="#2a3443">Time/s</text>
<rect x="243.4" y="256.7" width="197" height="82.3" fill="#fff" stroke="#bdbdbd" stroke-width="0.8"/>
<path d="M243.4 256.7V339" stroke="#777" stroke-width="0.8" fill="none"/>
<path d="M256 256.7V339M286.44 256.7V339M316.88 256.7V339M347.32 256.7V339M377.76 256.7V339M408.2 256.7V339M438.64 256.7V339M243.4 271.7H440.4M243.4 288.3H440.4M243.4 304.6H440.4M243.4 321.2H440.4" stroke="#d0d0d0" stroke-width="0.6" stroke-dasharray="0.8 1" fill="none"/>
<text class="sm" x="240" y="273.42" font-size="5.2" font-weight="bold" text-anchor="end" fill="#1a1a1a">20</text>
<text class="sm" x="240" y="290.02" font-size="5.2" font-weight="bold" text-anchor="end" fill="#1a1a1a">15</text>
<text class="sm" x="240" y="306.32" font-size="5.2" font-weight="bold" text-anchor="end" fill="#1a1a1a">10</text>
<text class="sm" x="240" y="322.92" font-size="5.2" font-weight="bold" text-anchor="end" fill="#1a1a1a">5</text>
<text class="sm" x="240" y="339.42" font-size="5.2" font-weight="bold" text-anchor="end" fill="#1a1a1a">0</text>
<path d="M241 271.7H243.4M241 288.3H243.4M241 304.6H243.4M241 321.2H243.4M241 337.7H243.4" stroke="#888" stroke-width="0.6" fill="none"/>
<polyline points="243.4,337.6 286.4,337.6 286.4,258.4 388.7,258.4 388.7,337.6 440.4,337.6" fill="none" stroke="#222" stroke-width="1.4" stroke-linejoin="round"/>
<rect x="385.5" y="257.7" width="54.3" height="9.2" rx="0.8" fill="#fff" stroke="#c2c2c2" stroke-width="0.85"/>
<path d="M388 262.4H394.6" stroke="#111" stroke-width="1.2"/>
<text class="sm" x="397.6" y="264.17" font-size="5.7" font-weight="bold" fill="#1a1a1a">Pulse Generator</text>
<rect x="243.4" y="349.3" width="197" height="83.2" fill="#fff" stroke="#bdbdbd" stroke-width="0.8"/>
<path d="M243.4 349.3V432.5" stroke="#777" stroke-width="0.8" fill="none"/>
<path d="M256 349.3V432.5M286.44 349.3V432.5M316.88 349.3V432.5M347.32 349.3V432.5M377.76 349.3V432.5M408.2 349.3V432.5M438.64 349.3V432.5M243.4 365.4H440.4M243.4 381.4H440.4M243.4 397.3H440.4M243.4 413.3H440.4M243.4 429H440.4" stroke="#d0d0d0" stroke-width="0.6" stroke-dasharray="0.8 1" fill="none"/>
<text class="sm" x="240" y="351.32" font-size="5.2" font-weight="bold" text-anchor="end" fill="#1a1a1a">20</text>
<text class="sm" x="240" y="367.22" font-size="5.2" font-weight="bold" text-anchor="end" fill="#1a1a1a">15</text>
<text class="sm" x="240" y="383.12" font-size="5.2" font-weight="bold" text-anchor="end" fill="#1a1a1a">10</text>
<text class="sm" x="240" y="399.12" font-size="5.2" font-weight="bold" text-anchor="end" fill="#1a1a1a">5</text>
<text class="sm" x="240" y="415.02" font-size="5.2" font-weight="bold" text-anchor="end" fill="#1a1a1a">0</text>
<text class="sm" x="240" y="430.82" font-size="5.2" font-weight="bold" text-anchor="end" fill="#1a1a1a">-5</text>
<path d="M241 349.6H243.4M241 365.5H243.4M241 381.4H243.4M241 397.4H243.4M241 413.3H243.4M241 429.1H243.4" stroke="#888" stroke-width="0.6" fill="none"/>
<path d="M388.7 339V430.2" stroke="#444" stroke-width="0.7" stroke-dasharray="2.4 1.3" fill="none"/>
<polyline points="243.4,400 286.4,400 318.7,396.8 350,394.9 388.6,394.2 409.6,399.8 440.4,399.9" fill="none" stroke="#ffae22" stroke-width="1.3" stroke-linejoin="round"/>
<polyline points="243.4,375.7 286.4,377 350,375.7 388.5,375 440.4,374.6" fill="none" stroke="#333399" stroke-width="1.3" stroke-linejoin="round"/>
<polyline points="243.4,413.2 286.4,413.2 303.8,374 320.2,354.3 336.2,357.4 340,362.3 370.9,412.9 440.4,412.9" fill="none" stroke="#ff2626" stroke-width="1.3" stroke-linejoin="round"/>
<polyline points="243.4,426.2 286.4,426.2 303.8,413.4 320.2,402.8 336.2,395.7 350,392.1 365,389.4 388.6,385.9 416.9,426.3 440.4,426.3" fill="none" stroke="#ff44ff" stroke-width="1.3" stroke-linejoin="round"/>
<rect x="416.2" y="350.2" width="23.7" height="27.1" rx="0.8" fill="#fff" stroke="#c2c2c2" stroke-width="0.85"/>
<path d="M418.2 354.8H425" stroke="#333399" stroke-width="1.6"/>
<text class="sm" x="427.6" y="356.54" font-size="5.6" font-weight="bold" fill="#1a1a1a">IL1</text>
<path d="M418.2 360.8H425" stroke="#ff2626" stroke-width="1.6"/>
<text class="sm" x="427.6" y="362.54" font-size="5.6" font-weight="bold" fill="#1a1a1a">IL2</text>
<path d="M418.2 366.9H425" stroke="#ffae22" stroke-width="1.6"/>
<text class="sm" x="427.6" y="368.64" font-size="5.6" font-weight="bold" fill="#1a1a1a">IL3</text>
<path d="M418.2 373.1H425" stroke="#ff44ff" stroke-width="1.6"/>
<text class="sm" x="427.6" y="374.84" font-size="5.6" font-weight="bold" fill="#1a1a1a">IL4</text>
<text class="sm" x="256" y="439.12" font-size="4.9" font-weight="bold" text-anchor="middle" fill="#1a1a1a">9.8179</text>
<text class="sm" x="286.4" y="439.12" font-size="4.9" font-weight="bold" text-anchor="middle" fill="#1a1a1a">9.8180</text>
<text class="sm" x="316.9" y="439.12" font-size="4.9" font-weight="bold" text-anchor="middle" fill="#1a1a1a">9.8181</text>
<text class="sm" x="347.3" y="439.12" font-size="4.9" font-weight="bold" text-anchor="middle" fill="#1a1a1a">9.8182</text>
<text class="sm" x="377.8" y="439.12" font-size="4.9" font-weight="bold" text-anchor="middle" fill="#1a1a1a">9.8183</text>
<text class="sm" x="408.2" y="439.12" font-size="4.9" font-weight="bold" text-anchor="middle" fill="#1a1a1a">9.8184</text>
<text class="sm" x="440.5" y="439.12" font-size="4.9" font-weight="bold" text-anchor="middle" fill="#1a1a1a">× 1e-2</text>
<path d="M256 432.5V434.7M286.4 432.5V434.7M316.9 432.5V434.7M347.3 432.5V434.7M377.8 432.5V434.7M408.2 432.5V434.7" stroke="#888" stroke-width="0.6" fill="none"/>
<path d="M378.8 410.9L359.7 401.7" stroke="#111" stroke-width="1.0" fill="none"/>
<path d="M359.7 401.7L364.04 401.9L362.57 404.97z" fill="#111"/>
<path d="M371.5 410.2L388.6 410.2" stroke="#4a8fe0" stroke-width="1.5" fill="none"/>
<path d="M388.6 410.2L384.6 412.2L384.6 408.2z" fill="#4a8fe0"/>
<path d="M371.5 410.2L375.5 408.2L375.5 412.2z" fill="#4a8fe0"/>
<path d="M397.8 424.7L413.6 405.6" stroke="#111" stroke-width="1.0" fill="none"/>
<path d="M413.6 405.6L412.36 409.77L409.74 407.6z" fill="#111"/>
<path d="M391.9 426.9L416.2 426.9" stroke="#4a8fe0" stroke-width="1.5" fill="none"/>
<path d="M416.2 426.9L412.2 428.9L412.2 424.9z" fill="#4a8fe0"/>
<path d="M391.9 426.9L395.9 424.9L395.9 428.9z" fill="#4a8fe0"/>
<text x="352.1" y="401.3" font-size="7.4" font-weight="bold" font-style="italic" text-anchor="middle" fill="#111">m</text>
<text x="415.6" y="401.7" font-size="6.8" font-weight="bold" font-style="italic" text-anchor="middle" fill="#111">D1</text>
<text class="cap" x="342" y="466.3" font-size="14" text-anchor="middle" fill="#111">(e)</text>
<rect x="457.65" y="246.55" width="225.5" height="203.4" rx="3.2" ry="3.2" fill="#a9d1f6" stroke="#a3a9b0" stroke-width="0.9"/>
<rect x="460.7" y="251.5" width="219" height="189.7" fill="#fff"/>
<path d="M458.2 445.7H545.5 M595.4 445.7H682.6" stroke="#6f8db0" stroke-width="0.5" fill="none"/>
<path d="M546 445.7l-2.2 -1.2 v2.4 z M594.9 445.7l2.2 -1.2 v2.4 z" fill="#1c2633"/>
<path d="M458 445.7l2.4 -1.2 v2.4 z M682.8 445.7l-2.4 -1.2 v2.4 z" fill="#1c2633"/>
<text class="tm" x="573.3" y="447.08" font-size="6.6" font-weight="bold" text-anchor="middle" fill="#2a3443">Time/s</text>
<rect x="478.1" y="260.4" width="192.7" height="34.2" fill="#fff" stroke="#c6c6c6" stroke-width="0.8"/>
<path d="M479.3 260.4V294.6M508.5 260.4V294.6M537.7 260.4V294.6M566.9 260.4V294.6M596.1 260.4V294.6M625.3 260.4V294.6M654.5 260.4V294.6M478.1 267.2H670.8M478.1 280.2H670.8" stroke="#d0d0d0" stroke-width="0.6" stroke-dasharray="0.8 1" fill="none"/>
<text x="474.7" y="269.74" font-size="7.7" font-weight="bold" text-anchor="end" fill="#1a1a1a">20</text>
<text x="474.7" y="282.74" font-size="7.7" font-weight="bold" text-anchor="end" fill="#1a1a1a">10</text>
<text x="474.7" y="295.84" font-size="7.7" font-weight="bold" text-anchor="end" fill="#1a1a1a">0</text>
<path d="M475.7 267.2H478.1M475.7 280.2H478.1M475.7 293.3H478.1" stroke="#888" stroke-width="0.6" fill="none"/>
<polyline points="478.1,293.3 498.5,293.3 498.5,261.4 547.5,261.4 547.5,293.3 596.4,293.3 596.4,261.4 644.6,261.4 644.6,293.3 670.8,293.3" fill="none" stroke="#1f1f8f" stroke-width="1.3" stroke-linejoin="round"/>
<rect x="593.9" y="261.6" width="75.5" height="12.3" rx="0.8" fill="#fff" stroke="#c2c2c2" stroke-width="0.85"/>
<path d="M596.8 267.4H606.2" stroke="#1f1f8f" stroke-width="1.2"/>
<text x="610.4" y="269.88" font-size="8" font-weight="bold" fill="#1a1a1a">Pulse Generator</text>
<rect x="478.1" y="306.1" width="192.7" height="34.5" fill="#fff" stroke="#c6c6c6" stroke-width="0.8"/>
<path d="M479.3 306.1V340.6M508.5 306.1V340.6M537.7 306.1V340.6M566.9 306.1V340.6M596.1 306.1V340.6M625.3 306.1V340.6M654.5 306.1V340.6M478.1 314.1H670.8M478.1 321.7H670.8M478.1 329.2H670.8" stroke="#d0d0d0" stroke-width="0.6" stroke-dasharray="0.8 1" fill="none"/>
<text x="474.7" y="309.21" font-size="7.6" font-weight="bold" text-anchor="end" fill="#1a1a1a">60</text>
<text x="474.7" y="316.71" font-size="7.6" font-weight="bold" text-anchor="end" fill="#1a1a1a">40</text>
<text x="474.7" y="324.21" font-size="7.6" font-weight="bold" text-anchor="end" fill="#1a1a1a">20</text>
<text x="474.7" y="331.71" font-size="7.6" font-weight="bold" text-anchor="end" fill="#1a1a1a">0</text>
<text x="474.7" y="339.31" font-size="7.6" font-weight="bold" text-anchor="end" fill="#1a1a1a">-20</text>
<path d="M475.7 306.7H478.1M475.7 314.2H478.1M475.7 321.7H478.1M475.7 329.2H478.1M475.7 336.8H478.1" stroke="#888" stroke-width="0.6" fill="none"/>
<polyline points="478.1,338 498.5,337.6 498.5,328.7 507.8,315.4 517.1,307.6 526.1,309.1 532.1,328 537.9,329 547.5,329 547.5,338 596.4,337.8 596.4,328.7 600.5,321.6 604.5,315.8 613,308.4 622.2,308.4 628.9,327 632.2,328.8 644.6,328.9 644.6,338 670.8,338" fill="none" stroke="#42d62e" stroke-width="1.3" stroke-linejoin="round"/>
<rect x="638" y="307.8" width="31.4" height="11.7" rx="0.8" fill="#fff" stroke="#c2c2c2" stroke-width="0.85"/>
<path d="M640.8 313.4H649.6" stroke="#42d62e" stroke-width="1.2"/>
<text x="653.8" y="315.88" font-size="8" font-weight="bold" fill="#1a1a1a">IC1</text>
<rect x="478.1" y="351.7" width="192.7" height="35.2" fill="#fff" stroke="#c6c6c6" stroke-width="0.8"/>
<path d="M479.3 351.7V386.9M508.5 351.7V386.9M537.7 351.7V386.9M566.9 351.7V386.9M596.1 351.7V386.9M625.3 351.7V386.9M654.5 351.7V386.9M478.1 356.6H670.8M478.1 373.5H670.8" stroke="#d0d0d0" stroke-width="0.6" stroke-dasharray="0.8 1" fill="none"/>
<text x="474.7" y="359.14" font-size="7.7" font-weight="bold" text-anchor="end" fill="#1a1a1a">20</text>
<text x="474.7" y="376.04" font-size="7.7" font-weight="bold" text-anchor="end" fill="#1a1a1a">0</text>
<path d="M475.7 356.6H478.1M475.7 373.5H478.1" stroke="#888" stroke-width="0.6" fill="none"/>
<polyline points="478.1,383.4 498.4,382.6 498.4,373.7 507.5,364.9 516.4,357.4 526.1,353.3 531.9,367.7 535.4,365.7 539.4,361.6 547.2,360.8 547.2,383.4 596.3,383.2 596.3,373.7 604.6,366.3 614.2,358 622.5,353.3 628.9,367.6 636.4,362.7 644.6,361 644.6,383.3 670.8,383.3" fill="none" stroke="#1c1c86" stroke-width="1.3" stroke-linejoin="round"/>
<rect x="637.9" y="352.9" width="31.5" height="12.6" rx="0.8" fill="#fff" stroke="#c2c2c2" stroke-width="0.85"/>
<path d="M640.8 359.3H649.8" stroke="#1c1c86" stroke-width="1.2"/>
<text x="654" y="361.78" font-size="8" font-weight="bold" fill="#1a1a1a">IC2</text>
<rect x="478.1" y="396.7" width="192.7" height="35.4" fill="#fff" stroke="#c6c6c6" stroke-width="0.8"/>
<path d="M479.3 396.7V432.1M508.5 396.7V432.1M537.7 396.7V432.1M566.9 396.7V432.1M596.1 396.7V432.1M625.3 396.7V432.1M654.5 396.7V432.1M478.1 405.8H670.8M478.1 414.1H670.8M478.1 422.4H670.8" stroke="#d0d0d0" stroke-width="0.6" stroke-dasharray="0.8 1" fill="none"/>
<text x="474.7" y="400.11" font-size="7.6" font-weight="bold" text-anchor="end" fill="#1a1a1a">80</text>
<text x="474.7" y="408.31" font-size="7.6" font-weight="bold" text-anchor="end" fill="#1a1a1a">60</text>
<text x="474.7" y="416.61" font-size="7.6" font-weight="bold" text-anchor="end" fill="#1a1a1a">40</text>
<text x="474.7" y="424.91" font-size="7.6" font-weight="bold" text-anchor="end" fill="#1a1a1a">20</text>
<text x="474.7" y="433.21" font-size="7.6" font-weight="bold" text-anchor="end" fill="#1a1a1a">0</text>
<path d="M475.7 397.6H478.1M475.7 405.8H478.1M475.7 414.1H478.1M475.7 422.4H478.1M475.7 430.7H478.1" stroke="#888" stroke-width="0.6" fill="none"/>
<polyline points="478.1,430.7 498.4,430.7 498.4,422.1 507.5,406.4 516.4,398.1 526.1,399.4 531.9,420.2 536,421.3 547.1,421.3 547.1,430.7 596.3,430.7 596.3,421.6 604.6,407.7 612.9,398.6 622.5,398.6 628.9,420.2 632.2,421.3 644.6,421.3 644.6,430.7 670.8,430.7" fill="none" stroke="#6c38f2" stroke-width="1.3" stroke-linejoin="round"/>
<rect x="630.7" y="398.7" width="38.7" height="12.5" rx="0.8" fill="#fff" stroke="#c2c2c2" stroke-width="0.85"/>
<path d="M633.8 405H643.2" stroke="#6c38f2" stroke-width="1.2"/>
<text x="647.3" y="407.48" font-size="8" font-weight="bold" fill="#1a1a1a">ISW1</text>
<text x="479.3" y="440.88" font-size="7.5" font-weight="bold" text-anchor="middle" fill="#1a1a1a">4.57972</text>
<text x="508.5" y="440.88" font-size="7.5" font-weight="bold" text-anchor="middle" fill="#1a1a1a">4.57974</text>
<text x="537.7" y="440.88" font-size="7.5" font-weight="bold" text-anchor="middle" fill="#1a1a1a">4.57976</text>
<text x="566.9" y="440.88" font-size="7.5" font-weight="bold" text-anchor="middle" fill="#1a1a1a">4.57978</text>
<text x="596.1" y="440.88" font-size="7.5" font-weight="bold" text-anchor="middle" fill="#1a1a1a">4.57980</text>
<text x="625.3" y="440.88" font-size="7.5" font-weight="bold" text-anchor="middle" fill="#1a1a1a">4.57982</text>
<text x="668.7" y="440.88" font-size="7.5" font-weight="bold" text-anchor="middle" fill="#1a1a1a">× 1e-1</text>
<path d="M479.3 432.1V434.3M508.5 432.1V434.3M537.7 432.1V434.3M566.9 432.1V434.3M596.1 432.1V434.3M625.3 432.1V434.3" stroke="#888" stroke-width="0.6" fill="none"/>
<path d="M531.8 329L531.8 433.8" stroke="#444" stroke-width="1.1" fill="none"/>
<path d="M531.8 433.8L530.1 429.8L533.5 429.8z" fill="#444"/>
<path d="M531.8 329L533.5 333L530.1 333z" fill="#444"/>
<rect x="554.2" y="310.1" width="33.1" height="17.5" fill="#fdb400"/>
<text x="570.75" y="317.89" font-size="7.0" font-weight="bold" text-anchor="middle" fill="#1a1a1a">IC1=0 at</text>
<text x="570.75" y="325.19" font-size="7.0" font-weight="bold" text-anchor="middle" fill="#1a1a1a">(D-2m)</text>
<path d="M537.7 327.6L553.9 318.4" stroke="#333" stroke-width="1.1" fill="none"/>
<path d="M553.9 318.4L551 322L549.32 319.05z" fill="#333"/>
<path d="M537.7 327.6L540.6 324L542.28 326.95z" fill="#333"/>
<rect x="556.8" y="393.1" width="32.8" height="24.1" fill="#fdb400"/>
<text x="573.2" y="400.64" font-size="7.0" font-weight="bold" text-anchor="middle" fill="#1a1a1a">Current</text>
<text x="573.2" y="407.54" font-size="7.0" font-weight="bold" text-anchor="middle" fill="#1a1a1a">Reduction</text>
<text x="573.2" y="414.44" font-size="7.0" font-weight="bold" text-anchor="middle" fill="#1a1a1a">of SW1</text>
<path d="M541 420.7L556.1 408" stroke="#333" stroke-width="1.2" fill="none"/>
<path d="M556.1 408L553.9 412.07L551.71 409.47z" fill="#333"/>
<path d="M541 420.7L543.2 416.63L545.39 419.23z" fill="#333"/>
<text class="cap" x="568.6" y="466.3" font-size="14" text-anchor="middle" fill="#111">(f)</text>
</svg>
</body>
</html>
